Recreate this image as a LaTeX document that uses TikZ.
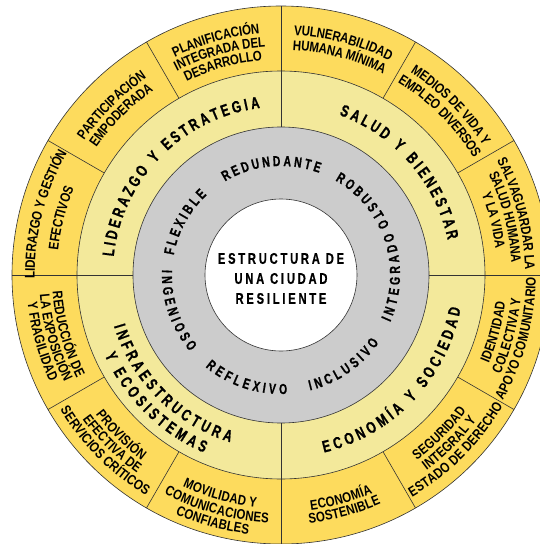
\documentclass[tikz,border=0pt]{standalone}
\usepackage{fontspec}
\usetikzlibrary{decorations.text}
\newfontfamily\outerfont[FakeStretch=0.82]{Liberation Sans Bold}
\newfontfamily\quadfont[FakeStretch=0.72,FakeBold=0.8]{Liberation Sans Bold}
\newfontfamily\wordfont[FakeStretch=0.72,FakeBold=0.8]{Liberation Sans Bold}
\newfontfamily\corefont[FakeStretch=0.72,FakeBold=0.6,LetterSpace=18]{Liberation Sans Bold}
% fonts for the rings; the kern spaces the letters out along the arc
\newcommand{\otf}{\outerfont\fontsize{14pt}{16pt}\selectfont}
\newcommand{\qtf}{\quadfont\fontsize{16.5pt}{18pt}\selectfont\kern3.4pt}
\newcommand{\wtf}{\wordfont\fontsize{14.5pt}{16pt}\selectfont\kern3.2pt}
\newcommand{\ctf}{\corefont\fontsize{15.5pt}{20pt}\selectfont}
\definecolor{ryellow}{HTML}{FDDB5D}
\definecolor{lyellow}{HTML}{F3E99B}
\definecolor{rgray}{HTML}{CCCCCC}
\definecolor{rline}{HTML}{333333}
\tikzset{
 ring/.style={draw=rline,line width=0.6pt},
 spoke/.style={draw=rline,line width=0.6pt}
}
% text along an arc: cw = upper half (tops out), ccw = lower half (tops in)
\newcommand{\cwtext}[4][-4.8pt]{%
 \path[decorate,decoration={text along path,text align=center,raise=#1,text={#4}}]
  ({#2+80}:#3pt) arc[start angle=#2+80,end angle=#2-80,radius=#3pt];}
\newcommand{\ccwtext}[4][-4.8pt]{%
 \path[decorate,decoration={text along path,text align=center,raise=#1,text={#4}}]
  ({#2-80}:#3pt) arc[start angle=#2-80,end angle=#2+80,radius=#3pt];}

\begin{document}
\begin{tikzpicture}
 \useasboundingbox (-281pt,-269pt) rectangle (258pt,275pt);
 % rings
 \fill[ryellow] (0,0) circle[radius=269pt];
 \fill[lyellow] (0,0) circle[radius=204pt];
 \fill[rgray] (0,0) circle[radius=148pt];
 \fill[white] (0,0) circle[radius=76pt];
 \foreach \a in {0,90,180,270}
  \draw[spoke] (\a:148pt) -- (\a:269pt);
 \foreach \a in {30,60,120,150,210,240,300,330}
  \draw[spoke] (\a:204pt) -- (\a:269pt);
 \foreach \r in {269,204,148,76}
  \draw[ring] (0,0) circle[radius=\r pt];

 \node[font=\ctf,align=center] (core) at (0,-3.5pt) {ESTRUCTURA DE\\UNA CIUDAD\\RESILIENTE};

 % qualities
 \cwtext[-5pt]{152}{114}{|\wtf|FLEXIBLE}
 \cwtext[-5pt]{96}{114}{|\wtf|REDUNDANTE}
 \cwtext[-5pt]{43}{114}{|\wtf|ROBUSTO}
 \ccwtext[-5pt]{-2}{114}{|\wtf|INTEGRADO}
 \ccwtext[-5pt]{-56}{114}{|\wtf|INCLUSIVO}
 \ccwtext[-5pt]{-109}{114}{|\wtf|REFLEXIVO}
 \ccwtext[-5pt]{198}{114}{|\wtf|INGENIOSO}

 % dimensions
 \cwtext[-5.7pt]{136}{174}{|\qtf|LIDERAZGO Y ESTRATEGIA}
 \cwtext[-5.7pt]{41.5}{176}{|\qtf|SALUD Y BIENESTAR}
 \ccwtext[-5.7pt]{-44}{177}{|\qtf|ECONOMÍA Y SOCIEDAD}
 \ccwtext[-5.7pt]{224.5}{169}{|\qtf|INFRAESTRUCTURA}
 \ccwtext[-5.7pt]{225}{188}{|\qtf|Y ECOSISTEMAS}

 % goals, upper half
 \cwtext{105.5}{247}{|\otf|PLANIFICACIÓN}
 \cwtext{105.5}{233.5}{|\otf|INTEGRADA DEL}
 \cwtext{105.5}{220}{|\otf|DESARROLLO}
 \cwtext{135}{243}{|\otf|PARTICIPACIÓN}
 \cwtext{135}{229}{|\otf|EMPODERADA}
 \cwtext{165.5}{251}{|\otf|LIDERAZGO Y GESTIÓN}
 \cwtext{165.5}{229}{|\otf|EFECTIVOS}
 \cwtext{75}{245}{|\otf|VULNERABILIDAD}
 \cwtext{75}{230}{|\otf|HUMANA MÍNIMA}
 \cwtext{45}{245}{|\otf|MEDIOS DE VIDA Y}
 \cwtext{45}{230}{|\otf|EMPLEO DIVERSOS}
 \cwtext{14.5}{249}{|\otf|SALVAGUARDAR LA}
 \cwtext{14.5}{235.5}{|\otf|SALUD HUMANA}
 \cwtext{14.5}{221}{|\otf|Y LA VIDA}

 % goals, lower half
 \ccwtext{-15}{221}{|\otf|IDENTIDAD}
 \ccwtext{-15}{236}{|\otf|COLECTIVA Y}
 \ccwtext{-15}{250}{|\otf|APOYO COMUNITARIO}
 \ccwtext{-45}{225}{|\otf|SEGURIDAD}
 \ccwtext{-45}{239}{|\otf|INTEGRAL Y}
 \ccwtext{-45}{253}{|\otf|ESTADO DE DERECHO}
 \ccwtext{-75}{232}{|\otf|ECONOMÍA}
 \ccwtext{-75}{245}{|\otf|SOSTENIBLE}
 \ccwtext{254.5}{228.5}{|\otf|MOVILIDAD Y}
 \ccwtext{254.5}{243}{|\otf|COMUNICACIONES}
 \ccwtext{254.5}{256.5}{|\otf|CONFIABLES}
 \ccwtext{225}{227}{|\otf|PROVISIÓN}
 \ccwtext{225}{240.5}{|\otf|EFECTIVA DE}
 \ccwtext{225}{254}{|\otf|SERVICIOS CRÍTICOS}
 \ccwtext{195.5}{224}{|\otf|REDUCCIÓN DE}
 \ccwtext{195.5}{237}{|\otf|LA EXPOSICIÓN}
 \ccwtext{195.5}{250}{|\otf|Y FRAGILIDAD}
\end{tikzpicture}
\end{document}
